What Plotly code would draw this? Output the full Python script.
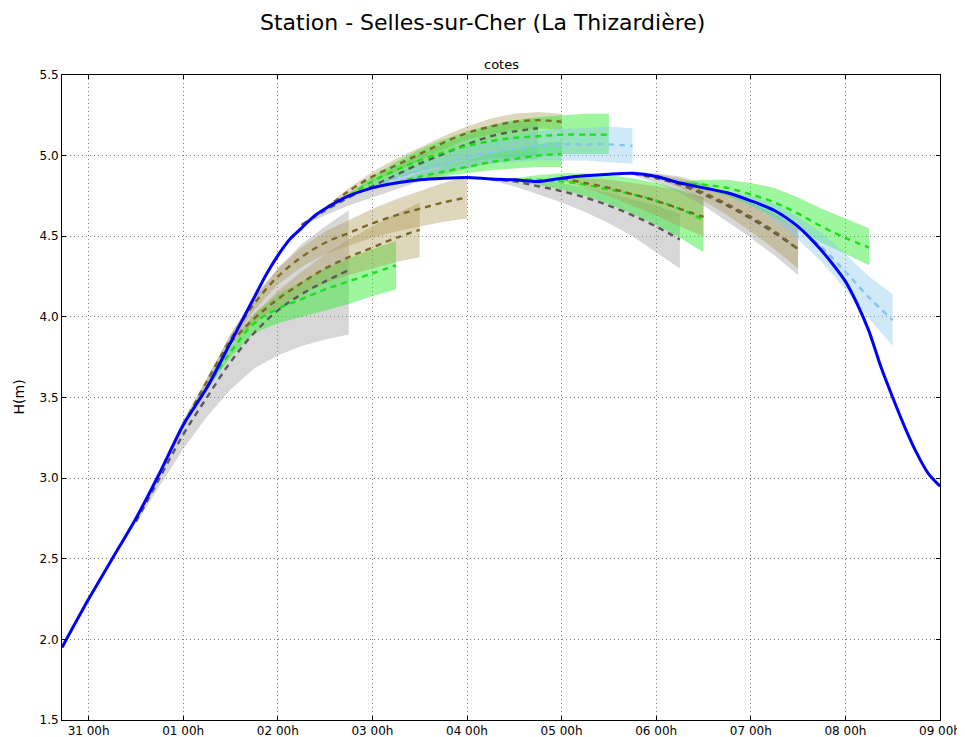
import plotly.graph_objects as go
import pandas as pd

# ---------------- observed water level ----------------
obs_time = ["2016-05-30 17:15", "2016-05-31 00:00", "2016-05-31 06:00", "2016-05-31 12:00", "2016-05-31 18:00",
            "2016-06-01 00:00", "2016-06-01 06:00", "2016-06-01 12:00", "2016-06-01 15:00", "2016-06-01 18:00",
            "2016-06-01 21:00", "2016-06-02 00:00", "2016-06-02 03:00", "2016-06-02 06:00", "2016-06-02 09:00",
            "2016-06-02 12:00", "2016-06-02 18:00",
            "2016-06-03 00:00", "2016-06-03 06:00", "2016-06-03 12:00", "2016-06-03 18:00",
            "2016-06-04 00:00", "2016-06-04 06:00", "2016-06-04 12:00", "2016-06-04 18:00",
            "2016-06-05 00:00", "2016-06-05 06:00", "2016-06-05 12:00", "2016-06-05 18:00",
            "2016-06-06 00:00", "2016-06-06 06:00", "2016-06-06 12:00", "2016-06-06 18:00",
            "2016-06-07 00:00", "2016-06-07 06:00", "2016-06-07 12:00", "2016-06-07 15:00",
            "2016-06-07 18:00", "2016-06-07 21:00", "2016-06-08 00:00", "2016-06-08 03:00",
            "2016-06-08 06:00", "2016-06-08 09:00", "2016-06-08 12:00", "2016-06-08 15:00",
            "2016-06-08 18:00", "2016-06-08 21:00", "2016-06-09 00:00"]
obs_h = [1.95, 2.25, 2.50, 2.75, 3.03,
         3.33, 3.56, 3.84, 3.98, 4.12,
         4.26, 4.38, 4.48, 4.55, 4.62,
         4.67, 4.75,
         4.80, 4.83, 4.85, 4.86,
         4.865, 4.855, 4.85, 4.84,
         4.86, 4.875, 4.885, 4.89,
         4.87, 4.83, 4.80, 4.77,
         4.72, 4.66, 4.56, 4.49,
         4.41, 4.32, 4.22, 4.08,
         3.91, 3.69, 3.50, 3.32,
         3.16, 3.03, 2.95]

# ---------------- forecasts (6-hourly steps from issue time) ----------------
fcA_issue, fcA_kind = "2016-05-31 12:00", "gray"
fcA_mid = [2.73, 3.00, 3.27, 3.50, 3.72, 3.90, 4.04, 4.14, 4.22, 4.29]
fcA_lo = [2.72, 2.95, 3.18, 3.38, 3.55, 3.68, 3.76, 3.82, 3.86, 3.89]
fcA_hi = [2.74, 3.05, 3.36, 3.62, 3.89, 4.12, 4.30, 4.45, 4.56, 4.66]

fcB_issue, fcB_kind = "2016-06-01 00:00", "olive"
fcB_mid = [3.33, 3.60, 3.86, 4.08, 4.25, 4.37, 4.46, 4.52, 4.58, 4.63, 4.67, 4.71, 4.74]
fcB_lo = [3.32, 3.58, 3.83, 4.04, 4.20, 4.31, 4.39, 4.44, 4.49, 4.53, 4.56, 4.59, 4.61]
fcB_hi = [3.34, 3.62, 3.89, 4.12, 4.30, 4.43, 4.53, 4.60, 4.67, 4.73, 4.78, 4.83, 4.87]

fcC_issue, fcC_kind = "2016-06-01 06:00", "green"
fcC_mid = [3.56, 3.78, 3.96, 4.05, 4.11, 4.17, 4.22, 4.27, 4.32]
fcC_lo = [3.55, 3.75, 3.90, 3.96, 4.00, 4.04, 4.08, 4.13, 4.17]
fcC_hi = [3.57, 3.81, 4.02, 4.14, 4.22, 4.30, 4.36, 4.42, 4.47]

fcD_issue, fcD_kind = "2016-06-01 12:00", "olive"
fcD_mid = [3.84, 3.99, 4.11, 4.21, 4.30, 4.37, 4.43, 4.49, 4.54]
fcD_lo = [3.83, 3.96, 4.06, 4.14, 4.21, 4.26, 4.30, 4.34, 4.37]
fcD_hi = [3.85, 4.02, 4.16, 4.28, 4.39, 4.48, 4.56, 4.64, 4.71]

fcE_issue, fcE_kind = "2016-06-02 12:00", "olive"
fcE_mid = [4.67, 4.78, 4.87, 4.94, 5.01, 5.08, 5.14, 5.18, 5.21, 5.22, 5.21]
fcE_lo = [4.66, 4.76, 4.84, 4.90, 4.97, 5.04, 5.10, 5.13, 5.16, 5.17, 5.16]
fcE_hi = [4.68, 4.80, 4.90, 4.98, 5.05, 5.12, 5.18, 5.23, 5.26, 5.27, 5.26]

fcF_issue, fcF_kind = "2016-06-02 06:00", "gray"
fcF_mid = [4.57, 4.66, 4.74, 4.81, 4.88, 4.95, 5.01, 5.07, 5.12, 5.15, 5.17]
fcF_lo = [4.56, 4.63, 4.69, 4.74, 4.79, 4.84, 4.88, 4.92, 4.95, 4.97, 4.98]
fcF_hi = [4.58, 4.68, 4.77, 4.85, 4.93, 5.01, 5.07, 5.13, 5.18, 5.21, 5.23]

fcG_issue, fcG_kind = "2016-06-02 18:00", "green"
fcG_mid = [4.75, 4.84, 4.91, 4.97, 5.02, 5.06, 5.09, 5.11, 5.12, 5.13, 5.13, 5.13]
fcG_lo = [4.74, 4.81, 4.86, 4.90, 4.93, 4.96, 4.98, 4.99, 5.00, 5.01, 5.01, 5.01]
fcG_hi = [4.76, 4.87, 4.96, 5.04, 5.10, 5.15, 5.19, 5.22, 5.24, 5.25, 5.26, 5.26]

fcH_issue, fcH_kind = "2016-06-03 00:00", "lightblue"
fcH_mid = [4.80, 4.86, 4.91, 4.95, 4.99, 5.02, 5.04, 5.06, 5.07, 5.07, 5.07, 5.06]
fcH_lo = [4.79, 4.83, 4.87, 4.90, 4.93, 4.95, 4.96, 4.97, 4.97, 4.97, 4.96, 4.95]
fcH_hi = [4.81, 4.89, 4.95, 5.00, 5.05, 5.09, 5.12, 5.15, 5.17, 5.17, 5.18, 5.17]

fcI_issue, fcI_kind = "2016-06-03 06:00", "green"
fcI_mid = [4.83, 4.87, 4.90, 4.93, 4.96, 4.98, 5.00, 5.01]
fcI_lo = [4.82, 4.85, 4.87, 4.89, 4.91, 4.92, 4.93, 4.93]
fcI_hi = [4.84, 4.89, 4.93, 4.97, 5.01, 5.04, 5.07, 5.09]

fcJ_issue, fcJ_kind = "2016-06-04 06:00", "gray"
fcJ_mid = [4.855, 4.84, 4.81, 4.78, 4.74, 4.69, 4.63, 4.56, 4.48]
fcJ_lo = [4.845, 4.81, 4.76, 4.71, 4.65, 4.58, 4.50, 4.40, 4.30]
fcJ_hi = [4.865, 4.86, 4.85, 4.83, 4.80, 4.77, 4.73, 4.69, 4.64]

fcK_issue, fcK_kind = "2016-06-05 00:00", "olive"
fcK_mid = [4.86, 4.83, 4.80, 4.76, 4.72, 4.67, 4.62]
fcK_lo = [4.85, 4.80, 4.75, 4.69, 4.63, 4.56, 4.50]
fcK_hi = [4.87, 4.86, 4.85, 4.83, 4.81, 4.78, 4.74]

fcL_issue, fcL_kind = "2016-06-04 12:00", "green"
fcL_mid = [4.85, 4.85, 4.84, 4.82, 4.79, 4.76, 4.72, 4.67, 4.60]
fcL_lo = [4.84, 4.82, 4.79, 4.75, 4.70, 4.64, 4.57, 4.49, 4.40]
fcL_hi = [4.86, 4.88, 4.89, 4.89, 4.88, 4.86, 4.83, 4.79, 4.74]

fcM_issue, fcM_kind = "2016-06-05 18:00", "gray"
fcM_mid = [4.89, 4.86, 4.82, 4.76, 4.69, 4.61, 4.52, 4.42]
fcM_lo = [4.88, 4.83, 4.77, 4.69, 4.59, 4.49, 4.38, 4.26]
fcM_hi = [4.90, 4.89, 4.87, 4.83, 4.77, 4.71, 4.64, 4.54]

fcN_issue, fcN_kind = "2016-06-06 00:00", "olive"
fcN_mid = [4.875, 4.83, 4.77, 4.70, 4.62, 4.53, 4.42]
fcN_lo = [4.865, 4.80, 4.72, 4.63, 4.53, 4.42, 4.30]
fcN_hi = [4.885, 4.86, 4.82, 4.77, 4.71, 4.64, 4.54]

fcO_issue, fcO_kind = "2016-06-06 06:00", "green"
fcO_mid = [4.83, 4.82, 4.80, 4.76, 4.71, 4.64, 4.56, 4.49, 4.43]
fcO_lo = [4.82, 4.79, 4.75, 4.69, 4.62, 4.54, 4.46, 4.39, 4.32]
fcO_hi = [4.84, 4.85, 4.85, 4.83, 4.80, 4.74, 4.67, 4.61, 4.55]

fcP_issue, fcP_kind = "2016-06-06 18:00", "lightblue"
fcP_mid = [4.77, 4.72, 4.65, 4.55, 4.43, 4.28, 4.12, 3.98]
fcP_lo = [4.76, 4.69, 4.60, 4.48, 4.34, 4.17, 3.99, 3.82]
fcP_hi = [4.78, 4.75, 4.70, 4.62, 4.52, 4.39, 4.25, 4.14]

forecasts = [
    (fcA_issue, fcA_kind, fcA_mid, fcA_lo, fcA_hi),
    (fcB_issue, fcB_kind, fcB_mid, fcB_lo, fcB_hi),
    (fcC_issue, fcC_kind, fcC_mid, fcC_lo, fcC_hi),
    (fcD_issue, fcD_kind, fcD_mid, fcD_lo, fcD_hi),
    (fcF_issue, fcF_kind, fcF_mid, fcF_lo, fcF_hi),
    (fcE_issue, fcE_kind, fcE_mid, fcE_lo, fcE_hi),
    (fcI_issue, fcI_kind, fcI_mid, fcI_lo, fcI_hi),
    (fcG_issue, fcG_kind, fcG_mid, fcG_lo, fcG_hi),
    (fcH_issue, fcH_kind, fcH_mid, fcH_lo, fcH_hi),
    (fcJ_issue, fcJ_kind, fcJ_mid, fcJ_lo, fcJ_hi),
    (fcL_issue, fcL_kind, fcL_mid, fcL_lo, fcL_hi),
    (fcK_issue, fcK_kind, fcK_mid, fcK_lo, fcK_hi),
    (fcM_issue, fcM_kind, fcM_mid, fcM_lo, fcM_hi),
    (fcN_issue, fcN_kind, fcN_mid, fcN_lo, fcN_hi),
    (fcO_issue, fcO_kind, fcO_mid, fcO_lo, fcO_hi),
    (fcP_issue, fcP_kind, fcP_mid, fcP_lo, fcP_hi),
]

band_colors = {
    "gray": "rgba(150,150,150,0.38)",
    "olive": "rgba(170,150,80,0.38)",
    "green": "rgba(40,235,40,0.45)",
    "lightblue": "rgba(135,200,235,0.40)",
}
line_colors = {
    "gray": "#5a5a5a",
    "olive": "#7a6a28",
    "green": "#1fdd1f",
    "lightblue": "#86c4ea",
}

fig = go.Figure()

# bands
for issue, kind, mid, lo, hi in forecasts:
    t = list(pd.date_range(issue, periods=len(mid), freq="6h"))
    fig.add_trace(go.Scatter(
        x=t + t[::-1], y=hi + lo[::-1], fill="toself", mode="lines",
        line=dict(width=0), fillcolor=band_colors[kind], hoverinfo="skip", showlegend=False))

# dashed central forecasts
for issue, kind, mid, lo, hi in forecasts:
    t = list(pd.date_range(issue, periods=len(mid), freq="6h"))
    fig.add_trace(go.Scatter(
        x=t, y=mid, mode="lines", line=dict(color=line_colors[kind], width=2.4, dash="6px,5px", shape="spline"),
        showlegend=False))

# observed
fig.add_trace(go.Scatter(x=pd.to_datetime(obs_time), y=obs_h, mode="lines",
                         line=dict(color="#0000ff", width=3, shape="spline", smoothing=0.7),
                         showlegend=False))

# page body has an 8px margin: figure is sized/offset so the plot area lands at x 62..940, y 75..720
font_family = "DejaVu Sans, Liberation Sans, sans-serif"
fig.update_layout(
    width=957, height=729,
    margin=dict(l=54, r=25, t=67, b=17),
    paper_bgcolor="white", plot_bgcolor="white",
    font=dict(family=font_family, size=12, color="black"),
    title=dict(text="Station - Selles-sur-Cher (La Thizardière)", x=0.496, xanchor="center", xref="container",
               y=1 - 14 / 729, yanchor="middle", font=dict(size=22, family=font_family, color="black")),
    showlegend=False,
    annotations=[
        dict(text="cotes", xref="paper", yref="paper", x=0.5, y=1, xanchor="center", yanchor="bottom",
             yshift=1, showarrow=False, font=dict(size=13, family=font_family, color="black")),
        dict(text="H(m)", xref="paper", yref="paper", x=0, y=0.5, xanchor="center", yanchor="middle",
             xshift=-44, textangle=-90, showarrow=False, font=dict(size=14, family=font_family, color="black")),
    ],
)
fig.update_xaxes(
    type="date", range=["2016-05-30 17:15", "2016-06-09 00:00"],
    tick0="2016-05-31", dtick=86400000, tickformat="%d %Hh",
    showgrid=True, gridcolor="rgba(0,0,0,0.5)", griddash="1px,3px", gridwidth=1,
    showline=True, linecolor="black", linewidth=1, mirror="ticks",
    ticks="inside", ticklen=4, tickcolor="black", zeroline=False, automargin=False,
    tickfont=dict(size=12),
)
fig.update_yaxes(
    range=[1.5, 5.5], dtick=0.5, tickformat=".1f",
    showgrid=True, gridcolor="rgba(0,0,0,0.5)", griddash="1px,3px", gridwidth=1,
    showline=True, linecolor="black", linewidth=1, mirror="ticks",
    ticks="inside", ticklen=4, tickcolor="black", zeroline=False, automargin=False,
    tickfont=dict(size=12),
)

fig.write_html("out.html")
